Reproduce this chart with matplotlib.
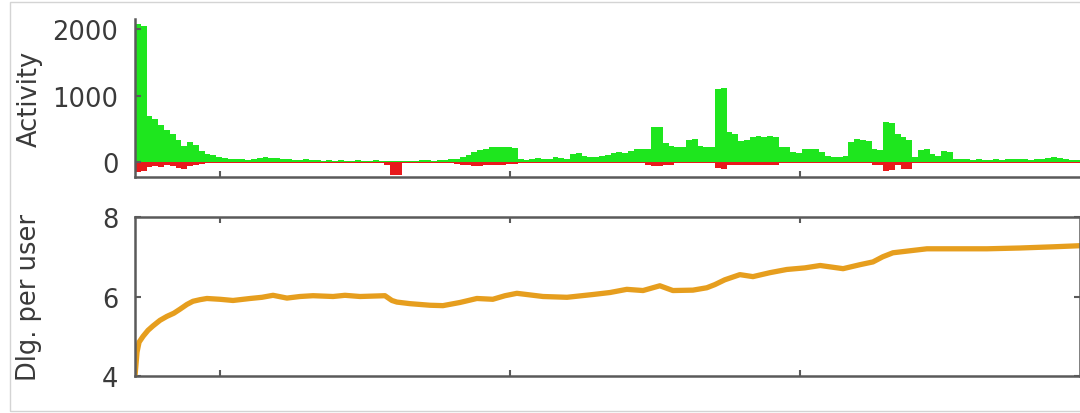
import matplotlib
matplotlib.use("Agg")
import matplotlib.pyplot as plt
from matplotlib.patches import Rectangle
import numpy as np

plt.rcParams['font.family'] = ['DejaVu Sans']

# activity per bin (bin width 2 units, first bin starts at 70.7)
bin_start = 70.7
bin_width = 2.0
green = [
    2080, 2050, 690, 640, 560, 480, 420, 330, 240, 300,
    260, 160, 120, 100, 80, 60, 50, 40, 40, 30,
    50, 60, 70, 60, 60, 50, 40, 30, 30, 40,
    30, 30, 20, 30, 20, 30, 20, 20, 30, 20,
    20, 30, 20, 20, 10, 10, 20, 20, 20, 30,
    30, 20, 30, 30, 40, 40, 80, 110, 150, 180,
    200, 220, 230, 230, 220, 210, 40, 30, 40, 60,
    40, 50, 70, 60, 50, 120, 140, 90, 80, 70,
    90, 100, 130, 150, 140, 160, 190, 190, 200, 530,
    520, 280, 240, 230, 220, 330, 340, 240, 230, 220,
    1100, 1120, 450, 420, 320, 330, 380, 390, 380, 390,
    380, 230, 220, 150, 140, 190, 200, 190, 150, 90,
    80, 80, 90, 300, 340, 330, 320, 190, 180, 600,
    590, 420, 380, 330, 80, 180, 190, 120, 90, 160,
    150, 50, 40, 40, 30, 40, 30, 30, 40, 30,
    40, 50, 40, 40, 30, 40, 50, 60, 70, 60,
    40, 30, 30,
]
red = [
    -150, -140, -80, -60, -70, -50, -60, -90, -100, -60,
    -40, -30, -20, -20, -20, -20, -20, -20, -20, -20,
    -20, -20, -20, -20, -20, -20, -20, -20, -20, -20,
    -20, -20, -20, -20, -20, -20, -20, -20, -20, -20,
    -20, -20, -20, -40, -190, -190, -20, -20, -20, -20,
    -20, -20, -20, -20, -20, -30, -40, -50, -60, -60,
    -50, -40, -40, -40, -30, -30, -20, -20, -20, -20,
    -20, -20, -20, -20, -20, -20, -20, -20, -20, -20,
    -20, -20, -20, -20, -20, -20, -20, -20, -40, -60,
    -60, -50, -40, -20, -20, -20, -20, -20, -20, -20,
    -90, -110, -40, -40, -40, -40, -40, -40, -40, -40,
    -40, -20, -20, -20, -20, -20, -20, -20, -20, -20,
    -20, -20, -20, -20, -20, -20, -20, -50, -50, -130,
    -120, -40, -100, -110, -20, -20, -20, -20, -20, -20,
    -20, -20, -20, -20, -20, -20, -20, -20, -20, -20,
    -20, -20, -20, -20, -20, -20, -20, -20, -20, -20,
    -20, -20, -20,
]

# dialogues per user
line_x = [70.7, 71.4, 72.1, 73.5, 75.2, 76.9, 79.3, 81.7, 84.1, 86.2,
          88.6, 90.7, 93.1, 95.5, 100, 104.5, 110.4, 114.5, 118.3, 123.1,
          127.6, 132.1, 139, 143.1, 148.3, 156.9, 159.3, 161.0, 165.5, 172.4,
          176.9, 182.8, 188.6, 194.1, 198.3, 202.4, 206.9, 211.4, 219.7, 228.6,
          234.5, 240.3, 245.9, 251.7, 256.2, 263.1, 267.9, 270.7, 274.1, 279.3,
          283.8, 289.7, 295.5, 301.7, 307, 314.9, 320.7, 325.2, 328.6, 332.1,
          337.9, 343.8, 355.2, 364.5, 375.9, 387.3, 397.3]
line_y = [4.0, 4.6, 4.85, 5.0, 5.15, 5.26, 5.4, 5.5, 5.58, 5.68,
          5.8, 5.88, 5.92, 5.95, 5.93, 5.9, 5.95, 5.98, 6.03, 5.96,
          6.0, 6.02, 6.0, 6.03, 6.0, 6.02, 5.9, 5.86, 5.82, 5.78,
          5.77, 5.85, 5.95, 5.93, 6.02, 6.08, 6.04, 6.0, 5.98, 6.05,
          6.1, 6.18, 6.15, 6.27, 6.15, 6.16, 6.22, 6.3, 6.42, 6.55,
          6.5, 6.6, 6.68, 6.72, 6.78, 6.7, 6.8, 6.87, 7.0, 7.1,
          7.15, 7.2, 7.2, 7.2, 7.22, 7.25, 7.28]

x_ticks = [100, 200, 300]
xlim = (70.7, 396.6)

W, H = 1080, 414
fig = plt.figure(figsize=(W / 100, H / 100), dpi=100)
fig.patches.append(Rectangle((10 / W, 2 / H), 1.0, 409 / H, transform=fig.transFigure,
                             fill=False, edgecolor='#d4d4d4', linewidth=1.0))

left = 135 / W
width = 945 / W
ax1 = fig.add_axes([left, 1 - 178 / H, width, 158 / H])
ax2 = fig.add_axes([left, 1 - 377 / H, width, 159 / H])

spine_col = '#5a5a5a'
text_col = '#3a3a3a'

xs = bin_start + bin_width * np.arange(len(green))
ax1.bar(xs, green, width=bin_width, align='edge', color='#1ee61e', linewidth=0)
ax1.bar(xs, red, width=bin_width, align='edge', color='#e8191c', linewidth=0)
ax1.set_xlim(*xlim)
ax1.set_ylim(-225, 2150)
ax1.set_yticks([0, 1000, 2000])
ax1.set_xticks(x_ticks)
ax1.set_xticklabels([])
ax1.spines['top'].set_visible(False)
ax1.spines['right'].set_visible(False)
ax1.set_ylabel('Activity', fontsize=18.5, color=text_col)

ax2.plot(line_x, line_y, color='#e69e1e', linewidth=3.8, solid_capstyle='butt')
ax2.set_xlim(*xlim)
ax2.set_ylim(4, 8)
ax2.set_yticks([4, 6, 8])
ax2.set_xticks(x_ticks)
ax2.set_xticklabels([])
ax2.set_ylabel('Dlg. per user', fontsize=18.5, color=text_col)
ax2.tick_params(top=True, right=True)

for ax in (ax1, ax2):
    for s in ax.spines.values():
        s.set_color(spine_col)
        s.set_linewidth(1.8)
    ax.tick_params(direction='in', length=4, width=1.5, color=spine_col,
                   labelsize=18.5, labelcolor=text_col, pad=12)
    ax.yaxis.set_label_coords(-0.098, 0.5)
    ax.yaxis.label.set_va('bottom')

fig.savefig('out.png', dpi=100)
